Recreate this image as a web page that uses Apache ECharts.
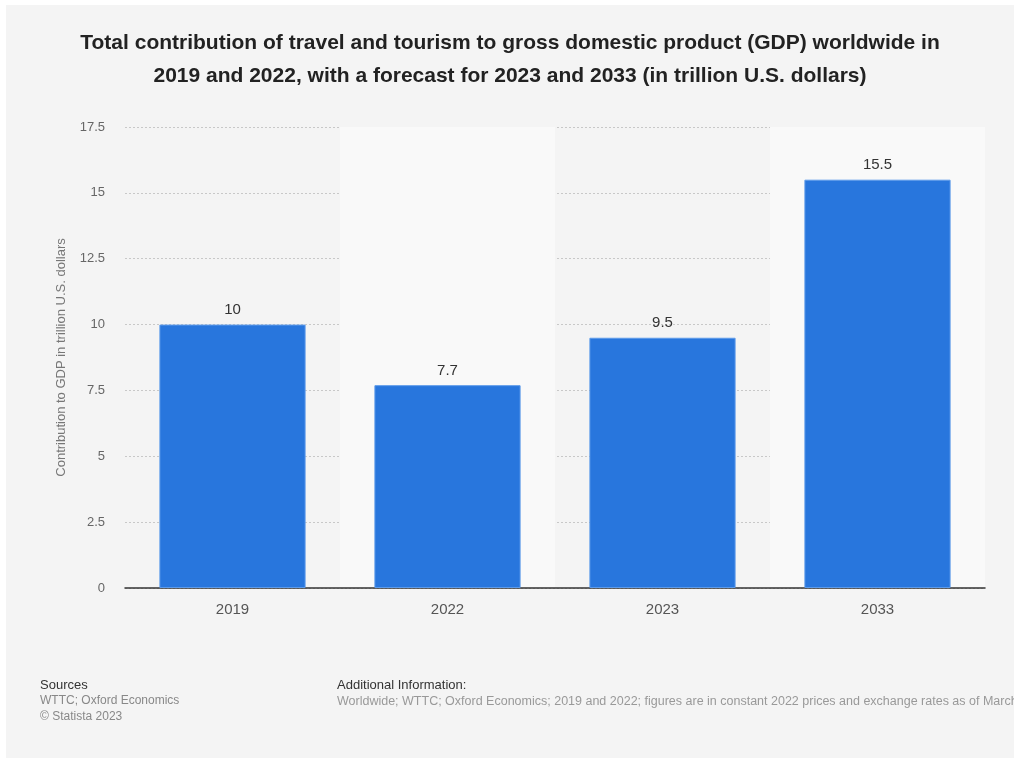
<!DOCTYPE html>
<html>
<head>
<meta charset="utf-8">
<script src="https://cdn.jsdelivr.net/npm/echarts@6/dist/echarts.min.js"></script>
<style>
  html, body { margin: 0; padding: 0; background: #fff; }
  #main { position: absolute; left: 6px; top: 5px; width: 1008px; height: 753px; background: #f4f4f4; }
</style>
</head>
<body>
<div id="main"></div>
<script>
// data
var years = ['2019', '2022', '2023', '2033'];
var gdpValues = [10, 7.7, 9.5, 15.5];
var titleText = 'Total contribution of travel and tourism to gross domestic product (GDP) worldwide in\n2019 and 2022, with a forecast for 2023 and 2033 (in trillion U.S. dollars)';
var yAxisName = 'Contribution to GDP in trillion U.S. dollars';

var font = 'Liberation Sans, Arial, sans-serif';

var myChart = echarts.init(document.getElementById('main'));
myChart.setOption({
  backgroundColor: '#f4f4f4',
  animation: false,
  title: {
    text: titleText,
    left: 'center',
    top: 17,
    textStyle: {fontFamily: font, fontSize: 21, fontWeight: 'bold', color: '#222', lineHeight: 33}
  },
  grid: {left: 119, right: 29, top: 122, bottom: 170},
  xAxis: {
    type: 'category',
    data: years,
    axisTick: {show: false},
    axisLine: {lineStyle: {color: '#333', width: 1.5}},
    axisLabel: {fontFamily: font, fontSize: 15, color: '#555', margin: 14},
    splitArea: {show: true, areaStyle: {color: ['rgba(0,0,0,0)', '#f9f9f9']}}
  },
  yAxis: {
    type: 'value',
    min: 0,
    max: 17.5,
    interval: 2.5,
    name: yAxisName,
    nameLocation: 'middle',
    nameGap: 57,
    nameTextStyle: {fontFamily: font, fontSize: 13, color: '#777'},
    axisLine: {show: false},
    axisTick: {show: false},
    axisLabel: {fontFamily: font, fontSize: 13, color: '#666', margin: 20},
    splitLine: {lineStyle: {color: '#c8c8c8', type: [2, 2]}}
  },
  series: [{
    type: 'bar',
    data: gdpValues,
    barWidth: '68%',
    itemStyle: {color: '#2876dd', borderColor: '#5d9bea', borderWidth: 1},
    label: {show: true, position: 'top', distance: 7, fontFamily: font, fontSize: 15, color: '#333'}
  }],
  graphic: [
    {type: 'text', left: 34, top: 674, style: {text: 'Sources', fontFamily: font, fontSize: 13, fill: '#333'}},
    {type: 'text', left: 34, top: 690, style: {text: 'WTTC; Oxford Economics', fontFamily: font, fontSize: 12, fill: '#888'}},
    {type: 'text', left: 34, top: 706, style: {text: '\u00a9 Statista 2023', fontFamily: font, fontSize: 12, fill: '#888'}},
    {type: 'text', left: 331, top: 674, style: {text: 'Additional Information:', fontFamily: font, fontSize: 13, fill: '#333'}},
    {type: 'text', left: 331, top: 690, style: {text: 'Worldwide; WTTC; Oxford Economics; 2019 and 2022; figures are in constant 2022 prices and exchange rates as of March 2023', fontFamily: font, fontSize: 12.5, fill: '#999'}}
  ]
});
</script>
</body>
</html>
